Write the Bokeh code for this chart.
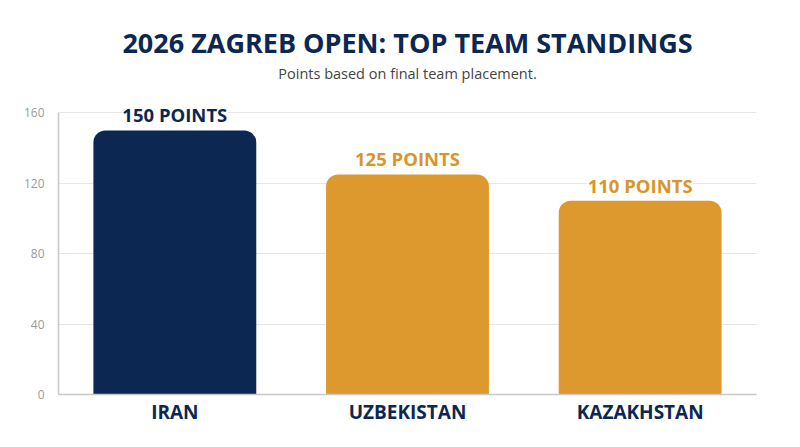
from bokeh.plotting import figure
from bokeh.models import ColumnDataSource, LabelSet, Title, FixedTicker
from bokeh.core.properties import value
from bokeh.embed import file_html
from bokeh.resources import INLINE

teams = ["IRAN", "UZBEKISTAN", "KAZAKHSTAN"]
points = [150, 125, 110]
labels = ["150 POINTS", "125 POINTS", "110 POINTS"]
colors = ["#0c2752", "#dd992d", "#dd992d"]
label_colors = ["#0c2752", "#d9952a", "#d9952a"]
y_ticks = [0, 40, 80, 120, 160]

FONT = "Open Sans"
NAVY = "#0c2752"

src = ColumnDataSource(dict(team=teams, pts=points, lab=labels, col=colors, lcol=label_colors))

p = figure(x_range=teams, y_range=(0, 163), width=792, height=439,
           output_backend="svg", toolbar_location=None,
           min_border_left=58, min_border_right=36, min_border_bottom=45, min_border_top=107)
p.title = None
p.add_layout(Title(text="Points based on final team placement.", align="center",
                   vertical_align="top",
                   text_font=FONT, text_font_size="14.5px", text_font_style="normal",
                   text_color="#444444", standoff=45), "above")
p.add_layout(Title(text="2026 ZAGREB OPEN: TOP TEAM STANDINGS", align="center",
                   text_font=FONT, text_font_size="27px", text_font_style="bold",
                   text_color=NAVY, standoff=-39), "above")

p.vbar(x="team", top="pts", width=0.7, source=src, fill_color="col", line_color=None,
       border_radius=(12, 12, 0, 0))

p.add_layout(LabelSet(x="team", y="pts", text="lab", source=src, text_align="center",
                      text_baseline="bottom", y_offset=3, text_font=value(FONT),
                      text_font_size=value("18.5px"), text_font_style="bold", text_color="lcol",
                      background_fill_color="white", background_fill_alpha=1.0))

p.outline_line_color = None
p.xgrid.grid_line_color = None
p.ygrid.grid_line_color = "#e6e6e6"
p.ygrid.grid_line_width = 1
p.yaxis.ticker = FixedTicker(ticks=y_ticks)
p.yaxis.bounds = (0, 160)
for ax in (p.xaxis, p.yaxis):
    ax.axis_line_color = "#c8c8c8"
    ax.axis_line_width = 1.5
    ax.major_tick_line_color = None
    ax.minor_tick_line_color = None
p.yaxis.major_label_text_font = FONT
p.yaxis.major_label_text_font_size = "12px"
p.yaxis.major_label_text_color = "#9a9a9a"
p.yaxis.major_label_standoff = 8
p.xaxis.major_label_text_font = FONT
p.xaxis.major_label_text_font_size = "19px"
p.xaxis.major_label_text_font_style = "bold"
p.xaxis.major_label_text_color = NAVY
p.xaxis.major_label_standoff = -2

open("out.html", "w").write(file_html(p, INLINE))
